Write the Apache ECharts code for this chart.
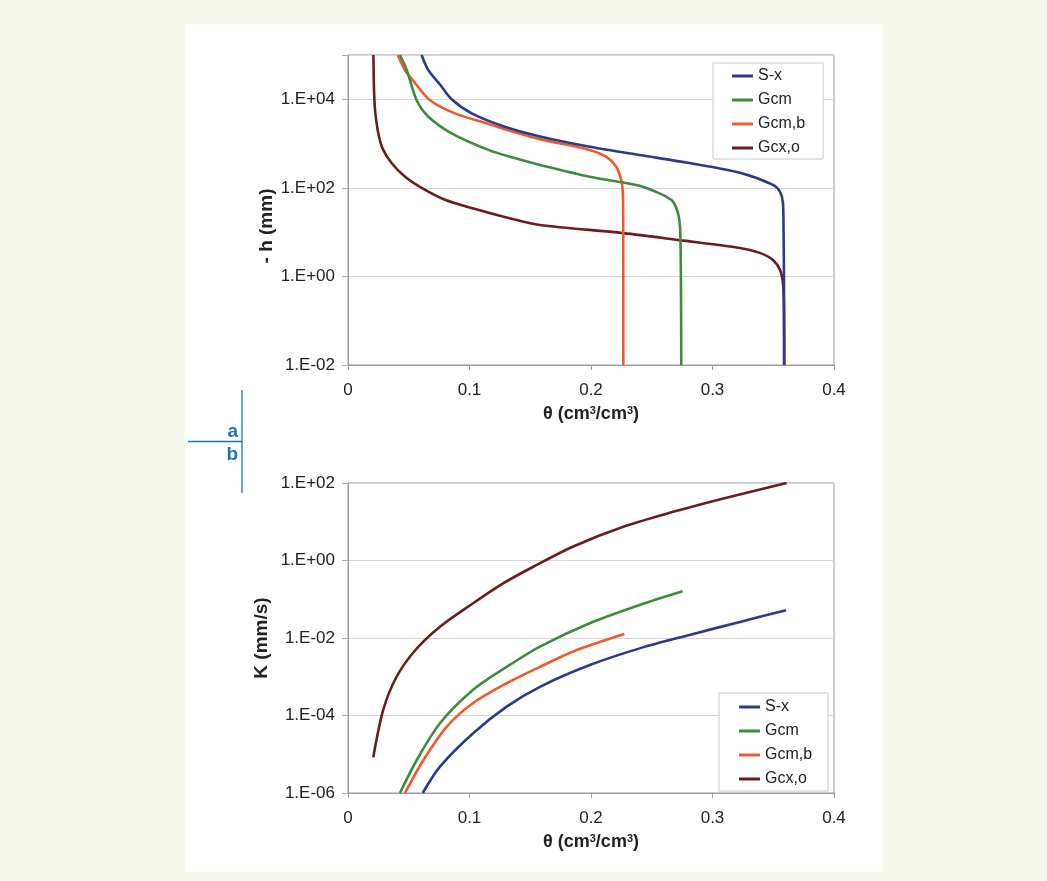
<!DOCTYPE html>
<html>
<head>
<meta charset="utf-8">
<script src="https://cdn.jsdelivr.net/npm/echarts@6/dist/echarts.min.js"></script>
<style>
html,body{margin:0;padding:0;background:#f4f7e9;}
#chart{width:1047px;height:881px;}
</style>
</head>
<body>
<div id="chart"></div>
<script>
// ---------- DATA ----------
const seriesNames = ['S-x', 'Gcm', 'Gcm,b', 'Gcx,o'];
const seriesColors = ['#2b3a8e', '#3f8a3d', '#ef5a2c', '#6b1d1d'];

// Panel a: theta (cm3/cm3) vs -h (mm)
const retSx = [[0.0606,1e5],[0.066,4.6e4],[0.076,2.1e4],[0.0853,1.0e4],[0.1018,4.8e3],[0.129,2.4e3],[0.158,1.45e3],[0.199,850],[0.240,550],[0.281,363],[0.3226,219],[0.3498,117],[0.3556,81],[0.358,46],[0.3585,10],[0.3588,1],[0.359,0.01]];
const retGcm = [[0.0428,1e5],[0.0483,4.6e4],[0.0565,9.5e3],[0.066,4.1e3],[0.0853,1.7e3],[0.1155,720],[0.137,470],[0.158,330],[0.199,178],[0.240,112],[0.2535,81],[0.262,63],[0.2675,49],[0.2716,27],[0.2733,13],[0.2740,1],[0.2743,0.01]];
const retGcmb = [[0.0409,1e5],[0.0469,4.6e4],[0.0565,2.1e4],[0.0675,9.5e3],[0.088,4.8e3],[0.117,2.7e3],[0.132,2.0e3],[0.158,1.26e3],[0.199,720],[0.2126,500],[0.2208,300],[0.2249,150],[0.2262,76],[0.2265,20],[0.2266,0.01]];
const retGcxo = [[0.0209,1e5],[0.0212,3e4],[0.0217,1e4],[0.0228,4.1e3],[0.0255,1.45e3],[0.029,720],[0.036,360],[0.047,178],[0.0606,100],[0.0798,54],[0.107,32],[0.1347,20],[0.158,14.5],[0.2266,9.5],[0.273,6.6],[0.3226,4.4],[0.339,3.4],[0.3498,2.35],[0.3556,1.4],[0.358,0.7],[0.3588,0.2],[0.359,0.01]];

// Panel b: theta (cm3/cm3) vs K (mm/s)
const kSx = [[0.0615,1e-6],[0.0757,4.8e-6],[0.103,3.5e-5],[0.1306,1.7e-4],[0.158,5.5e-4],[0.199,2.0e-3],[0.240,5.4e-3],[0.281,1.2e-2],[0.3226,2.6e-2],[0.3605,5.2e-2]];
const kGcm = [[0.0428,1e-6],[0.0565,7e-6],[0.0757,6.3e-5],[0.103,4.6e-4],[0.1306,1.8e-3],[0.158,6.0e-3],[0.199,2.4e-2],[0.240,7.1e-2],[0.2754,0.16]];
const kGcmb = [[0.0469,1e-6],[0.062,7e-6],[0.0812,5.1e-5],[0.103,2.1e-4],[0.1306,6.8e-4],[0.158,1.8e-3],[0.1854,4.5e-3],[0.2274,1.26e-2]];
const kGcxo = [[0.0208,8.3e-6],[0.029,1.4e-4],[0.040,1.0e-3],[0.0555,4.9e-3],[0.0757,1.95e-2],[0.103,7.9e-2],[0.128,0.26],[0.1525,0.69],[0.1854,2.3],[0.2266,7.4],[0.2677,18],[0.309,40],[0.361,100]];

const hTicks = [1e-2, 1, 1e2, 1e4];
const kTicks = [1e-6, 1e-4, 1e-2, 1, 1e2];
const thetaTicks = [0, 0.1, 0.2, 0.3, 0.4];

// ---------- CHART ----------
const FONT = 'Arial, "Liberation Sans", sans-serif';
function sciLabel(ticks) {
  return function (v) {
    const e = Math.round(Math.log10(v));
    const ok = ticks.some(t => Math.abs(Math.log10(t) - e) < 1e-6);
    if (!ok) return '';
    return '1.E' + (e < 0 ? '-' : '+') + String(Math.abs(e)).padStart(2, '0');
  };
}
function thetaLabel(v) {
  const ok = thetaTicks.some(t => Math.abs(t - v) < 1e-9);
  return ok ? String(+v.toFixed(1)) : '';
}
const thetaName = 'θ (cm{s|3}/cm{s|3})';
const nameRich = { s: { fontSize: 11, fontWeight: 'bold', fontFamily: FONT, color: '#222', verticalAlign: 'top', padding: [0, 0, 6, 0] } };

function xAxis(gridIndex) {
  return {
    type: 'value', gridIndex, min: 0, max: 0.4, interval: 0.1,
    name: thetaName, nameLocation: 'middle', nameGap: 40,
    nameTextStyle: { fontSize: 18, fontWeight: 'bold', color: '#222', fontFamily: FONT, rich: nameRich },
    axisLine: { show: true, lineStyle: { color: '#9a9a9a', width: 1 } },
    axisTick: { show: true, length: 5, lineStyle: { color: '#9a9a9a' } },
    axisLabel: { fontSize: 17, color: '#222', fontFamily: FONT, margin: 17, formatter: thetaLabel },
    splitLine: { show: false }
  };
}
function yAxis(gridIndex, min, max, ticks, name, gap, pad) {
  return {
    type: 'log', logBase: 100, gridIndex, min, max,
    name, nameLocation: 'middle', nameGap: gap, nameRotate: 90,
    nameTextStyle: { fontSize: 19, fontWeight: 'bold', color: '#222', fontFamily: FONT, padding: pad },
    axisLine: { show: true, lineStyle: { color: '#9a9a9a', width: 1 } },
    axisTick: { show: true, length: 6, lineStyle: { color: '#b0b0b0' } },
    axisLabel: { fontSize: 17, color: '#222', fontFamily: FONT, margin: 13, formatter: sciLabel(ticks) },
    minorTick: { show: false },
    splitLine: { show: true, lineStyle: { color: '#d6d6d6', width: 1 } }
  };
}

const retData = [retSx, retGcm, retGcmb, retGcxo];
const kData = [kSx, kGcm, kGcmb, kGcxo];
const series = [];
retData.forEach((d, i) => series.push({
  name: seriesNames[i], type: 'line', xAxisIndex: 0, yAxisIndex: 0, data: d,
  symbol: 'none', smooth: 0.3,
  lineStyle: { color: seriesColors[i], width: 2.6 }, itemStyle: { color: seriesColors[i] }, z: 10 - i
}));
kData.forEach((d, i) => series.push({
  name: seriesNames[i], type: 'line', xAxisIndex: 1, yAxisIndex: 1, data: d,
  symbol: 'none', smooth: 0.3,
  lineStyle: { color: seriesColors[i], width: 2.6 }, itemStyle: { color: seriesColors[i] }, z: 10 - i
}));

function legend(left, top, padding) {
  return {
    data: seriesNames, orient: 'vertical', left, top, padding, itemGap: 8,
    icon: 'rect', itemWidth: 21, itemHeight: 3,
    backgroundColor: '#ffffff', borderColor: '#c8c8c8', borderWidth: 1,
    textStyle: { fontSize: 16, lineHeight: 16, color: '#222', fontFamily: FONT },
    selectedMode: false
  };
}

const chart = echarts.init(document.getElementById('chart'), null, { renderer: 'canvas' });
chart.setOption({
  backgroundColor: '#f4f7e9',
  animation: false,
  graphic: [
    { type: 'rect', z: -100, shape: { x: 185, y: 24, width: 698, height: 848 }, style: { fill: '#ffffff' } },
    { type: 'line', shape: { x1: 242, y1: 390, x2: 242, y2: 493 }, style: { stroke: '#1a75c0', lineWidth: 1.3 } },
    { type: 'line', shape: { x1: 188, y1: 441.5, x2: 242, y2: 441.5 }, style: { stroke: '#1a75c0', lineWidth: 1.3 } },
    { type: 'text', x: 238, y: 432, style: { text: 'a', fill: '#1a75c0', font: 'bold 19px ' + FONT, align: 'right', verticalAlign: 'middle' } },
    { type: 'text', x: 238, y: 455, style: { text: 'b', fill: '#1a75c0', font: 'bold 19px ' + FONT, align: 'right', verticalAlign: 'middle' } }
  ],
  grid: [
    { left: 348, top: 55, width: 486, height: 310, show: true, borderColor: '#9a9a9a', borderWidth: 1, backgroundColor: 'transparent' },
    { left: 348, top: 483, width: 486, height: 310, show: true, borderColor: '#9a9a9a', borderWidth: 1, backgroundColor: 'transparent' }
  ],
  xAxis: [xAxis(0), xAxis(1)],
  yAxis: [
    yAxis(0, 1e-2, 1e5, hTicks, '- h (mm)', 72, [0, 32, 0, 0]),
    yAxis(1, 1e-6, 1e2, kTicks, 'K (mm/s)', 77, [0, 0, 0, 0])
  ],
  legend: [
    legend(713, 63, [5, 18, 3, 19]),
    legend(719, 693, [6, 16, 4, 20])
  ],
  series
});
</script>
</body>
</html>
